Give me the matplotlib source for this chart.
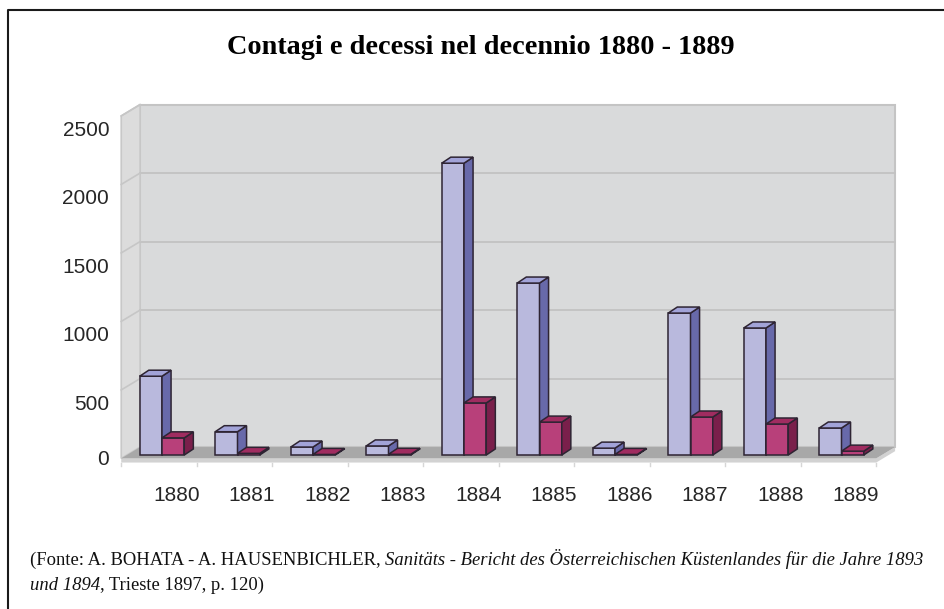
import matplotlib
matplotlib.use("Agg")
import matplotlib.pyplot as plt
from matplotlib.patches import Polygon
from matplotlib.lines import Line2D

# data
years = ["1880", "1881", "1882", "1883", "1884", "1885", "1886", "1887", "1888", "1889"]
contagi = [575, 170, 58, 66, 2130, 1255, 50, 1036, 927, 197]
decessi = [125, 12, 4, 5, 380, 240, 4, 277, 226, 28]
y_ticks = [0, 500, 1000, 1500, 2000, 2500]

W, H = 944, 609
fig = plt.figure(figsize=(W / 100, H / 100), dpi=100)
ax = fig.add_axes([0, 0, 1, 1])
# one category = 75.5 px, one unit = 0.137 px
ax.set_xlim(-162 / 75.5, (W - 162) / 75.5)
ax.set_ylim((455 - H) / 0.137, 455 / 0.137)
ax.axis("off")

# fake 3d geometry (category units / value units)
bw = 0.295             # bar width
bdx, bdy = 0.12, 44    # bar depth
wdx, wdy = 0.16, 58    # back wall offset
fdx, fdy = -0.09, -25  # floor front offset
x0, x1 = -0.45, len(years) - 0.45
top = y_ticks[-1]

# walls and floor
ax.add_patch(Polygon([(x0 + wdx, wdy), (x1 + wdx, wdy), (x1 + wdx, top + wdy), (x0 + wdx, top + wdy)],
                     fc="#d9dadb", ec="#c4c4c4", lw=1.5, zorder=1))
ax.add_patch(Polygon([(x0 + fdx, fdy), (x0 + wdx, wdy), (x0 + wdx, top + wdy), (x0 + fdx, top + fdy)],
                     fc="#dcdcdc", ec="#c8c8c8", lw=1.2, zorder=1))
for v in y_ticks[1:-1]:
    ax.plot([x0 + wdx, x1 + wdx], [v + wdy, v + wdy], color="#c2c2c2", lw=1.3, zorder=2)
for v in y_ticks[1:]:
    ax.plot([x0 + fdx, x0 + wdx], [v + fdy, v + wdy], color="#c6c6c6", lw=1.2, zorder=2)
ax.add_patch(Polygon([(x0 + fdx, fdy), (x1 + fdx, fdy), (x1 + wdx, wdy), (x0 + wdx, wdy)],
                     fc="#a8a8a8", ec="none", zorder=2))
ax.add_patch(Polygon([(x0 + fdx, fdy), (x1 + fdx, fdy), (x1 + wdx, wdy), (x1 + wdx, wdy - 30),
                      (x1 + fdx, fdy - 30), (x0 + fdx, fdy - 30)],
                     fc="#d2d2d2", ec="none", zorder=1.5))
for k in range(len(years) + 1):
    xx = x0 + fdx + k * (x1 - x0) / len(years)
    ax.plot([xx, xx], [fdy - 30, fdy - 55], color="#d6d6d6", lw=1, zorder=2)


def bar3d(x, v, front, side, topc):
    kw = dict(ec="#2e2433", lw=1.1, joinstyle="miter", zorder=3)
    ax.add_patch(Polygon([(x, 0), (x + bw, 0), (x + bw, v), (x, v)], fc=front, **kw))
    ax.add_patch(Polygon([(x + bw, 0), (x + bw + bdx, bdy), (x + bw + bdx, v + bdy), (x + bw, v)], fc=side, **kw))
    ax.add_patch(Polygon([(x, v), (x + bdx, v + bdy), (x + bw + bdx, v + bdy), (x + bw, v)], fc=topc, **kw))


for i in range(len(years)):
    bar3d(i - bw, contagi[i], "#b9b9dd", "#6869aa", "#a2a3d8")
    bar3d(i, decessi[i], "#b8407a", "#7a1f4b", "#a02c60")

# axis labels
for v in y_ticks:
    ax.text(x0 + fdx - 0.16, v - (128 if v else 36), str(v), ha="right", va="center",
            family="Liberation Sans", fontsize=15, color="#262626")
for i, y in enumerate(years):
    ax.text(i + 0.19, -292, y, ha="center", va="center",
            family="Liberation Sans", fontsize=15, color="#262626")

renderer = fig.canvas.get_renderer()

# title, fitted to the reference width
title = fig.text(480.5 / W, 1 - 54 / H, "Contagi e decessi nel decennio 1880 - 1889",
                 ha="center", va="baseline", family="Liberation Serif", weight="bold", fontsize=20)
tw = title.get_window_extent(renderer).width
title.set_fontsize(20 * 505 / tw)

# footer with mixed italics
line1 = [("(Fonte: A. BOHATA - A. HAUSENBICHLER, ", "normal"),
         ("Sanitäts - Bericht des Österreichischen Küstenlandes für die Jahre 1893", "italic")]
line2 = [("und 1894", "italic"), (", Trieste 1897, p. 120)", "normal")]


def put_line(pieces, x_px, y_px, size):
    x = x_px
    made = []
    for txt, st in pieces:
        t = fig.text(x / W, 1 - y_px / H, txt, ha="left", va="baseline",
                     family="Liberation Serif", style=st, fontsize=size, color="#111111")
        x += t.get_window_extent(renderer).width
        made.append(t)
    return x, made


end, tmp = put_line(line1, 30, 565, 14)
for t in tmp:
    t.remove()
fsize = 14 * 900 / (end - 30)
put_line(line1, 30, 565, fsize)
put_line(line2, 30, 590, fsize)

# frame of the original picture
fig.add_artist(Line2D([8 / W, 8 / W, 1], [0, 1 - 10 / H, 1 - 10 / H],
                      transform=fig.transFigure, color="#1a1a1a", lw=1.5))

fig.savefig("out.png", dpi=100)
